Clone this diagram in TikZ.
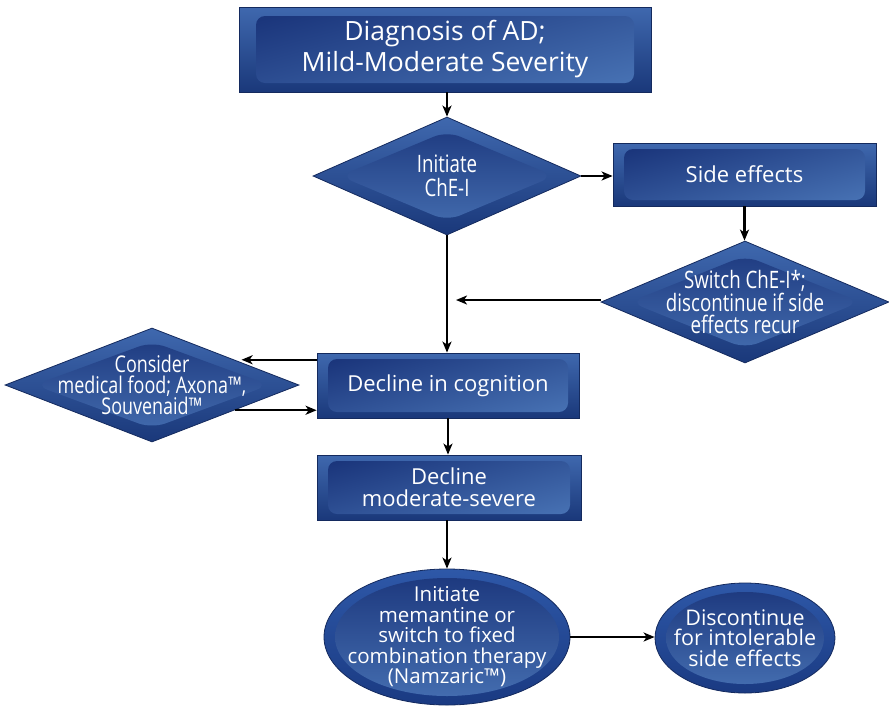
\documentclass[tikz,border=0pt]{standalone}
\usepackage{fontspec}
\setmainfont{Open Sans}
\newfontfamily\condfont[FakeStretch=0.78]{Open Sans}
\usetikzlibrary{shapes.geometric,arrows.meta,calc}
\definecolor{outA}{HTML}{3F68AE}
\definecolor{outB}{HTML}{1A387A}
\definecolor{bord}{HTML}{142A5E}
\definecolor{inA}{HTML}{1B367C}
\definecolor{inB}{HTML}{4670B2}
\definecolor{ellA}{HTML}{2E58A8}
\definecolor{ellB}{HTML}{1A3A82}
\tikzset{
  rbox/.style 2 args={rectangle, draw=bord, line width=0.8pt, top color=outA, bottom color=outB,
    text=white, align=center, inner sep=0pt,
    path picture={\shade[rounded corners=9pt, top color=inA, bottom color=inB, shading angle=15]
      ($(path picture bounding box.north west)+(#1,#2)$) rectangle
      ($(path picture bounding box.south east)+(-#1,-#2)$);}},
  dia/.style 2 args={diamond, draw=bord, line width=0.8pt, minimum width=2*#1, minimum height=2*#2,
    inner sep=0pt, top color=outA, bottom color=outB,
    path picture={\shade[rounded corners=14pt, top color=inA, bottom color=inB]
      ($(path picture bounding box.center)+(-0.8*#1,0)$) --
      ($(path picture bounding box.center)+(0,-0.76*#2)$) --
      ($(path picture bounding box.center)+(0.8*#1,0)$) --
      ($(path picture bounding box.center)+(0,0.76*#2)$) -- cycle;}},
  ell/.style 2 args={ellipse, draw=bord, line width=0.8pt, minimum width=2*#1, minimum height=2*#2,
    inner sep=0pt, top color=ellA, bottom color=ellB,
    path picture={\shade[top color=inA, bottom color=inB]
      (path picture bounding box.center) ellipse [x radius=#1-11, y radius=#2-9];}},
  lab/.style={text=white, align=center},
  arr/.style={-{Stealth[length=11pt,width=9pt,inset=3pt]}, line width=2.1pt, black},
}
\begin{document}
\begin{tikzpicture}[x=1pt,y=-1pt]
\useasboundingbox (0,0) rectangle (889,705);
% nodes
\node[rbox={17}{9}, minimum width=412, minimum height=85,
  font=\fontsize{26.5}{31}\selectfont] (top) at (445,49.5) {Diagnosis of AD;\\Mild-Moderate Severity};
\node[dia={134}{59}, label={[lab, font=\condfont\fontsize{24}{24}\selectfont]center:{Initiate\\ChE-I}}] (d1) at (447,176) {};
\node[rbox={11}{6}, minimum width=263, minimum height=63,
  font=\fontsize{22}{26}\selectfont] (se) at (744.5,174.5) {Side effects};
\node[dia={144}{61}, label={[lab, font=\condfont\fontsize{24}{22.5}\selectfont]center:{Switch ChE-I*;\\discontinue if side\\effects recur}}] (d2) at (745,302) {};
\node[rbox={11}{6}, minimum width=262, minimum height=65,
  font=\fontsize{22}{26}\selectfont] (dic) at (448,385.5) {Decline in cognition};
\node[dia={147}{57}, label={[lab, font=\condfont\fontsize{23}{21}\selectfont]center:{Consider\\medical food; Axona™,\\Souvenaid™}}] (d3) at (152,385) {};
\node[rbox={11}{6}, minimum width=264, minimum height=65,
  font=\fontsize{22}{22}\selectfont] (dms) at (449,487.5) {Decline\\moderate-severe};
\node[ell={123}{68}, label={[lab, font=\fontsize{20.5}{20.5}\selectfont]center:{Initiate\\memantine or\\switch to fixed\\combination therapy\\(Namzaric™)}}] (e1) at (447,637) {};
\node[ell={90}{55}, label={[lab, font=\fontsize{21.5}{20.5}\selectfont]center:{Discontinue\\for intolerable\\side effects}}] (e2) at (745,638) {};
\coordinate (j) at (456,300);
% connectors
\draw[arr] (top.south -| d1.north) -- (d1.north);
\draw[arr] (d1.east) -- (d1.east -| se.west);
\draw[arr] (se.south) -- (se.south |- d2.north);
\draw[arr] (d2.west |- j) -- (j);
\draw[arr] (d1.south) -- (d1.south |- dic.north);
\draw[arr, shorten >=7pt] (dic.west |- d3.17) -- (d3.17);
\draw[arr] (d3.-17) -- (d3.-17 -| dic.west);
\draw[arr] (dic.south) -- (dic.south |- dms.north);
\draw[arr] (dms.south -| e1.north) -- (e1.north);
\draw[arr] (e1.east) -- (e1.east -| e2.west);
\end{tikzpicture}
\end{document}
